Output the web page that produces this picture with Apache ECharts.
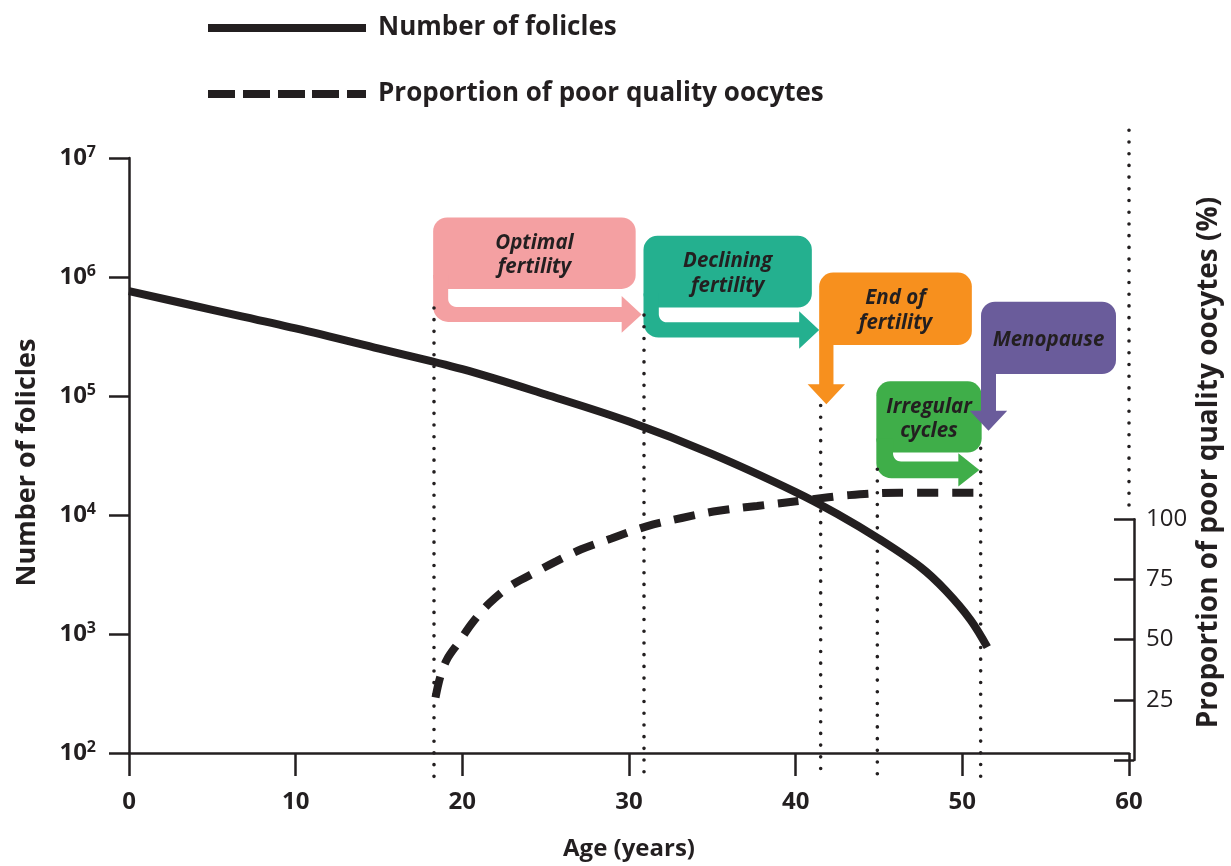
<!DOCTYPE html>
<html><head><meta charset="utf-8">
<script src="https://cdn.jsdelivr.net/npm/echarts@6/dist/echarts.min.js"></script>
<style>html,body{margin:0;padding:0;background:#fff}#c{width:1231px;height:866px}</style>
</head><body><div id="c"></div>
<script>
const FONT = '"Open Sans", "Noto Sans", sans-serif';
const INK = '#231F20';

// ---- data ----
const ageTicks = [0, 10, 20, 30, 40, 50, 60];
const proportionTicks = [25, 50, 75, 100];

// Number of follicles (solid line, log scale)
const follicleAges   = [0, 5, 10, 15, 20, 25, 30, 35, 40, 42.5, 45, 47.5, 49, 50.5, 51.5];
const follicleCounts = [760000, 530000, 370000, 250000, 168000, 103000, 61000, 32500, 15600, 10200, 6300, 3640, 2320, 1310, 775];

// Proportion of poor quality oocytes (dashed line, %)
const oocyteAges    = [18.3, 18.6, 19.0, 19.7, 20.5, 21.5, 22.7, 24, 25.5, 27, 28.8, 30.9, 33, 35.2, 37.5, 40.5, 43, 46, 51];
const oocytePercent = [26, 35, 42, 49, 57, 65, 72, 77, 82.5, 87.5, 92, 97, 100.5, 103.5, 105.5, 108, 110, 111, 111];

// Reproductive stages
const stageNames = ['Optimal\nfertility', 'Declining\nfertility', 'End of\nfertility', 'Irregular\ncycles', 'Menopause'];
const stageAges  = [18.3, 30.9, 41.5, 44.9, 51.1];

const seriesNames = ['Number of folicles', 'Proportion of poor quality oocytes'];

// ---- layout / styling (not data) ----
const legendIcons = [
  'path://M0,0H158V8H0Z',
  'path://M0,0H27V8H0Z M35,0H62V8H35Z M70,0H97V8H70Z M104,0H131V8H104Z M139,0H158V8H139Z'
];
const calloutLayout = [
  { x0: 18.25, x1: 30.4,  top: 6.50,  bottom: 5.90,  color: '#F4A0A2', dir: 'right', to: 30.76, depth: 33, band: 15, head: 20, half: 18.3 },
  { x0: 30.87, x1: 40.97, top: 6.346, bottom: 5.743, color: '#24B08F', dir: 'right', to: 41.41, depth: 30, band: 15.3, head: 20, half: 18.7 },
  { x0: 41.41, x1: 50.57, top: 6.037, bottom: 5.428, color: '#F7901E', dir: 'down',  to: 4.93,  band: 14.3, head: 20, half: 18.7 },
  { x0: 44.84, x1: 51.16, top: 5.123, bottom: 4.525, color: '#3FAE49', dir: 'right', to: 51.02, depth: 25.7, band: 16.7, head: 21, half: 16.7 },
  { x0: 51.12, x1: 59.22, top: 5.793, bottom: 5.184, color: '#6A5C9B', dir: 'down',  to: 4.708, band: 15, head: 20, half: 18.7 }
];
const dotTopExp = [5.74, 5.68, 4.92, 4.384, 4.56];
const dotBottomExp = 1.8;
const frameDot = { age: 60, fromExp: 7.233, toExp: 4 };

function arcPts(pts, cx, cy, r, a0, a1) {
  const n = 8;
  for (let k = 0; k <= n; k++) {
    const a = a0 + (a1 - a0) * k / n;
    pts.push([cx + r * Math.cos(a), cy + r * Math.sin(a)]);
  }
}

function renderCallout(params, api) {
  const i = params.dataIndex;
  const L = calloutLayout[i];
  const tl = api.coord([L.x0, Math.pow(10, L.top)]);
  const br = api.coord([L.x1, Math.pow(10, L.bottom)]);
  const x0 = tl[0], y0 = tl[1], x1 = br[0], y1 = br[1];
  const r = 14;
  const t = L.band;
  let pts = [];
  if (L.dir === 'right') {
    const ax = api.coord([L.to, 1e4])[0];
    const hb = ax - L.head;
    const yb = y1 + L.depth;
    const yt = yb - t;
    const yc = yb - t / 2;
    const ri = Math.min(8, yt - y1);
    const ro = 15;
    pts.push([x0, y1 - r], [x0 + t, y1 - r]);
    arcPts(pts, x0 + t + ri, yt - ri, ri, Math.PI, Math.PI / 2);
    pts.push([hb, yt], [hb, yc - L.half], [ax, yc], [hb, yc + L.half], [hb, yb]);
    arcPts(pts, x0 + ro, yb - ro, ro, Math.PI / 2, Math.PI);
  } else {
    const ay = api.coord([L.x0, Math.pow(10, L.to)])[1];
    const yb = ay - L.head;
    const cx = x0 + t / 2;
    pts.push([x0, y1 - r], [x0 + t, y1 - r], [x0 + t, yb], [cx + L.half, yb], [cx, ay], [cx - L.half, yb], [x0, yb]);
  }
  return {
    type: 'group',
    children: [
      { type: 'rect', shape: { x: x0, y: y0, width: x1 - x0, height: y1 - y0, r: r }, style: { fill: L.color }, z2: i * 2 },
      { type: 'polygon', shape: { points: pts }, style: { fill: L.color }, z2: i * 2 + 1 },
      { type: 'text', z2: 100,
        style: { text: stageNames[i], x: (x0 + x1) / 2, y: (y0 + y1) / 2 + 2, align: 'center', verticalAlign: 'middle',
                 fontFamily: FONT, fontWeight: 'bold', fontStyle: 'italic', fontSize: 20.5, lineHeight: 24.5, fill: INK } }
    ]
  };
}

const dotStyle = { stroke: INK, lineWidth: 3.6, lineDash: [0.01, 11.7], lineCap: 'round' };

function renderDots(params, api) {
  const i = params.dataIndex;
  let a, b;
  if (i < stageAges.length) {
    a = api.coord([stageAges[i], Math.pow(10, dotTopExp[i])]);
    b = api.coord([stageAges[i], Math.pow(10, dotBottomExp)]);
  } else {
    a = api.coord([frameDot.age, Math.pow(10, frameDot.fromExp)]);
    b = api.coord([frameDot.age, Math.pow(10, frameDot.toExp)]);
  }
  return { type: 'line', shape: { x1: a[0], y1: a[1], x2: b[0], y2: b[1] }, style: dotStyle, z2: 200 };
}

const chart = echarts.init(document.getElementById('c'), null, { renderer: 'canvas' });

const axisLineStyle = { color: INK, width: 2.5 };

chart.setOption({
  backgroundColor: '#ffffff',
  animation: false,
  textStyle: { fontFamily: FONT },
  legend: {
    left: 203, top: 10, orient: 'vertical',
    itemWidth: 158, itemHeight: 26, itemGap: 40,
    selectedMode: false,
    itemStyle: { color: INK, borderWidth: 0 },
    textStyle: { fontFamily: FONT, fontWeight: 'bold', fontSize: 26, color: INK, lineHeight: 26, padding: [0, 0, 0, 7] },
    data: seriesNames.map((n, i) => ({ name: n, icon: legendIcons[i] }))
  },
  grid: [
    { left: 129, right: 97, top: 158, bottom: 106 },
    { left: 129, right: 97, top: 519.2, bottom: 106 }
  ],
  xAxis: [
    {
      type: 'value', gridIndex: 0, min: ageTicks[0], max: ageTicks[ageTicks.length - 1], interval: 10,
      axisLine: { lineStyle: axisLineStyle },
      axisTick: { length: 23, lineStyle: axisLineStyle },
      splitLine: { show: false },
      axisLabel: { fontFamily: FONT, fontWeight: 'bold', fontSize: 24, color: INK, margin: 37 },
      name: 'Age (years)', nameLocation: 'middle', nameGap: 84,
      nameTextStyle: { fontFamily: FONT, fontWeight: 'bold', fontSize: 24, color: INK }
    },
    { type: 'value', gridIndex: 1, min: 0, max: 60, show: false }
  ],
  yAxis: [
    {
      type: 'log', logBase: 10, gridIndex: 0, min: 100, max: 1e7,
      axisLine: { lineStyle: axisLineStyle },
      axisTick: { length: 20, lineStyle: axisLineStyle },
      minorTick: { show: false },
      splitLine: { show: false },
      axisLabel: {
        margin: 33,
        formatter: v => '{b|10}{s|' + Math.round(Math.log10(v)) + '}',
        rich: {
          b: { fontFamily: FONT, fontWeight: 'bold', fontSize: 24, color: INK },
          s: { fontFamily: FONT, fontWeight: 'bold', fontSize: 16, color: INK, padding: [0, 0, 12, 0] }
        }
      },
      name: 'Number of folicles', nameLocation: 'middle', nameGap: 88, nameRotate: 90,
      nameTextStyle: { fontFamily: FONT, fontWeight: 'bold', fontSize: 27, color: INK, padding: [0, 14, 0, 0] }
    },
    {
      type: 'value', gridIndex: 1, position: 'right', min: 0, max: 100, interval: 25,
      axisLine: { show: true, onZero: false, lineStyle: axisLineStyle },
      axisTick: { show: true, inside: true, length: 20, lineStyle: axisLineStyle },
      splitLine: { show: false },
      axisLabel: { fontFamily: FONT, fontSize: 24, color: INK, margin: 12,
                   formatter: v => (proportionTicks.indexOf(v) >= 0 ? String(v) : '') }
    },
    {
      type: 'value', gridIndex: 0, position: 'right', min: 0, max: 1,
      axisLine: { show: false, onZero: false }, axisTick: { show: false }, axisLabel: { show: false }, splitLine: { show: false },
      name: 'Proportion of poor quality oocytes (%)', nameLocation: 'middle', nameGap: 66, nameRotate: 90,
      nameTextStyle: { fontFamily: FONT, fontWeight: 'bold', fontSize: 28, color: INK, padding: [0, 14, 0, 0] }
    }
  ],
  series: [
    {
      name: seriesNames[1], type: 'line', xAxisIndex: 1, yAxisIndex: 1,
      data: oocyteAges.map((a, i) => [a, oocytePercent[i]]),
      symbol: 'none', smooth: 0.35, clip: false, silent: true, z: 3,
      lineStyle: { color: INK, width: 8, type: [21, 14], cap: 'butt' },
      itemStyle: { color: INK }
    },
    {
      name: seriesNames[0], type: 'line', xAxisIndex: 0, yAxisIndex: 0,
      data: follicleAges.map((a, i) => [a, follicleCounts[i]]),
      symbol: 'none', smooth: 0.35, silent: true, z: 4,
      lineStyle: { color: INK, width: 8, cap: 'butt' },
      itemStyle: { color: INK }
    },
    {
      name: 'stages', type: 'custom', xAxisIndex: 0, yAxisIndex: 0, silent: true, z: 5,
      data: calloutLayout.map((c, i) => [stageAges[i], Math.pow(10, c.top)]),
      renderItem: renderCallout
    },
    {
      name: 'guides', type: 'custom', xAxisIndex: 0, yAxisIndex: 0, silent: true, z: 6,
      data: stageAges.map((a, i) => [a, Math.pow(10, dotTopExp[i])]).concat([[frameDot.age, Math.pow(10, frameDot.toExp)]]),
      renderItem: renderDots
    }
  ]
});
</script>
</body></html>
